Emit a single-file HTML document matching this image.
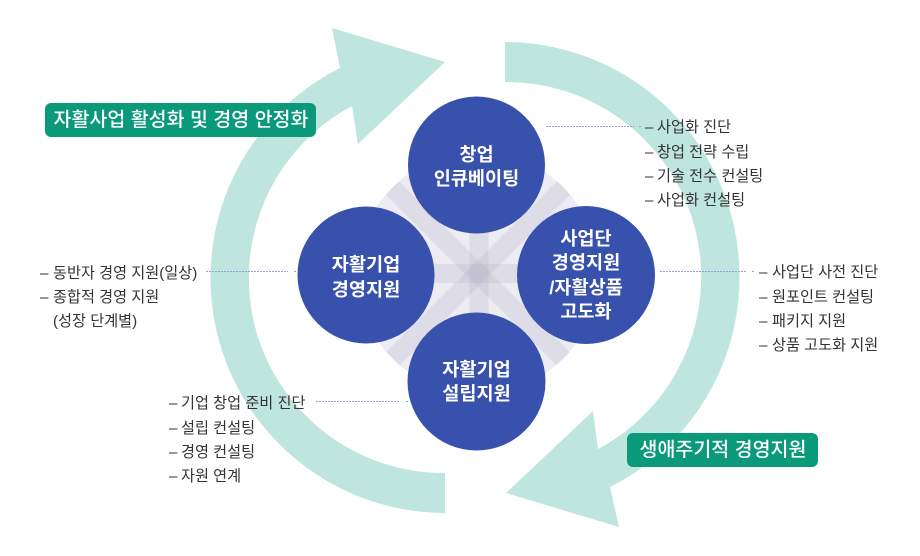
<!DOCTYPE html>
<html>
<head>
<meta charset="utf-8">
<style>
  html,body{margin:0;padding:0;background:#fff;}
  body{width:920px;height:556px;position:relative;overflow:hidden;
       font-family:"Liberation Sans","Noto Sans CJK KR",sans-serif;}
  svg{position:absolute;left:0;top:0;}
  .ct{position:absolute;color:#fff;font-weight:700;font-size:18.6px;text-align:center;white-space:nowrap;}
  .lbl{position:absolute;color:#fff;font-weight:500;font-size:19.5px;text-align:center;white-space:nowrap;line-height:34px;height:34px;}
  .list{position:absolute;color:#333;font-size:15.2px;white-space:nowrap;}
  .list div{display:flex;height:24.3px;line-height:24.3px;}
  .list span.d{display:inline-block;}
</style>
</head>
<body>
<svg width="920" height="556" viewBox="0 0 920 556" xmlns="http://www.w3.org/2000/svg">
  <defs>
    <clipPath id="cc"><circle cx="478" cy="273" r="121"/></clipPath>
  </defs>
  <circle cx="478" cy="273" r="121" fill="#ececf2"/>
  <g clip-path="url(#cc)" fill="rgb(170,166,190)" fill-opacity="0.2">
    <rect x="469.5" y="140" width="19" height="270"/>
    <rect x="340" y="264" width="280" height="19"/>
    <rect x="340" y="264" width="280" height="19" transform="rotate(45 478 273.5)"/>
    <rect x="340" y="264" width="280" height="19" transform="rotate(-45 478 273.5)"/>
  </g>

  <path d="M 445 513 A 235 235 0 0 1 340 68 L 332 28 L 445 62 L 358 144 L 352 106 A 195 195 0 0 0 445 473 Z" fill="#bfe6de"/>
  <path d="M 505 42 A 235 235 0 0 1 610 487 L 619 527 L 506 493 L 593 411 L 598 449 A 195 195 0 0 0 505 82 Z" fill="#bfe6de"/>

  <circle cx="476.5" cy="165" r="68.5" fill="#3751ad"/>
  <circle cx="366" cy="275" r="68.5" fill="#3751ad"/>
  <circle cx="586" cy="275" r="69" fill="#3751ad"/>
  <circle cx="476.5" cy="381.5" r="69" fill="#3751ad"/>

  <g stroke="#98a0d2" stroke-width="1" stroke-dasharray="2 1" fill="none">
    <line x1="546" y1="126.5" x2="634" y2="126.5"/>
    <line x1="639" y1="126.5" x2="641" y2="126.5"/>
    <line x1="660" y1="271.5" x2="746" y2="271.5"/>
    <line x1="752" y1="271.5" x2="754" y2="271.5"/>
    <line x1="206" y1="271.5" x2="288" y2="271.5"/>
    <line x1="294" y1="271.5" x2="296" y2="271.5"/>
    <line x1="316" y1="401.5" x2="400" y2="401.5"/>
    <line x1="406" y1="401.5" x2="408" y2="401.5"/>
  </g>

  <rect x="45" y="103" width="271" height="34" rx="6" ry="6" fill="#0a997b"/>
  <rect x="627" y="433" width="191" height="34" rx="6" ry="6" fill="#0a997b"/>
</svg>

<div class="lbl" style="left:45px;top:103px;width:272px;">자활사업 활성화 및 경영 안정화</div>
<div class="lbl" style="left:627px;top:433px;width:192px;">생애주기적 경영지원</div>

<div class="ct" style="left:406px;top:142.5px;width:141px;line-height:24px;">창업<br>인큐베이팅</div>
<div class="ct" style="left:296px;top:252px;width:140px;line-height:25px;">자활기업<br>경영지원</div>
<div class="ct" style="left:516px;top:227px;width:140px;line-height:24.3px;">사업단<br>경영지원<br>/자활상품<br>고도화</div>
<div class="ct" style="left:406px;top:358px;width:141px;line-height:23.5px;">자활기업<br>설립지원</div>

<div class="list" style="left:645px;top:116.4px;">
  <div><span class="d" style="width:12px">–</span><span>사업화 진단</span></div>
  <div><span class="d" style="width:12px">–</span><span>창업 전략 수립</span></div>
  <div><span class="d" style="width:12px">–</span><span>기술 전수 컨설팅</span></div>
  <div><span class="d" style="width:12px">–</span><span>사업화 컨설팅</span></div>
</div>

<div class="list" style="left:759px;top:261.3px;">
  <div><span class="d" style="width:13px">–</span><span>사업단 사전 진단</span></div>
  <div><span class="d" style="width:13px">–</span><span>원포인트 컨설팅</span></div>
  <div><span class="d" style="width:13px">–</span><span>패키지 지원</span></div>
  <div><span class="d" style="width:13px">–</span><span>상품 고도화 지원</span></div>
</div>

<div class="list" style="left:40px;top:261.9px;">
  <div><span class="d" style="width:13px">–</span><span>동반자 경영 지원(일상)</span></div>
  <div><span class="d" style="width:13px">–</span><span>종합적 경영 지원</span></div>
  <div><span class="d" style="width:13px"></span><span>(성장 단계별)</span></div>
</div>

<div class="list" style="left:169px;top:392.4px;">
  <div><span class="d" style="width:12px">–</span><span>기업 창업 준비 진단</span></div>
  <div><span class="d" style="width:12px">–</span><span>설립 컨설팅</span></div>
  <div><span class="d" style="width:12px">–</span><span>경영 컨설팅</span></div>
  <div><span class="d" style="width:12px">–</span><span>자원 연계</span></div>
</div>
</body>
</html>
